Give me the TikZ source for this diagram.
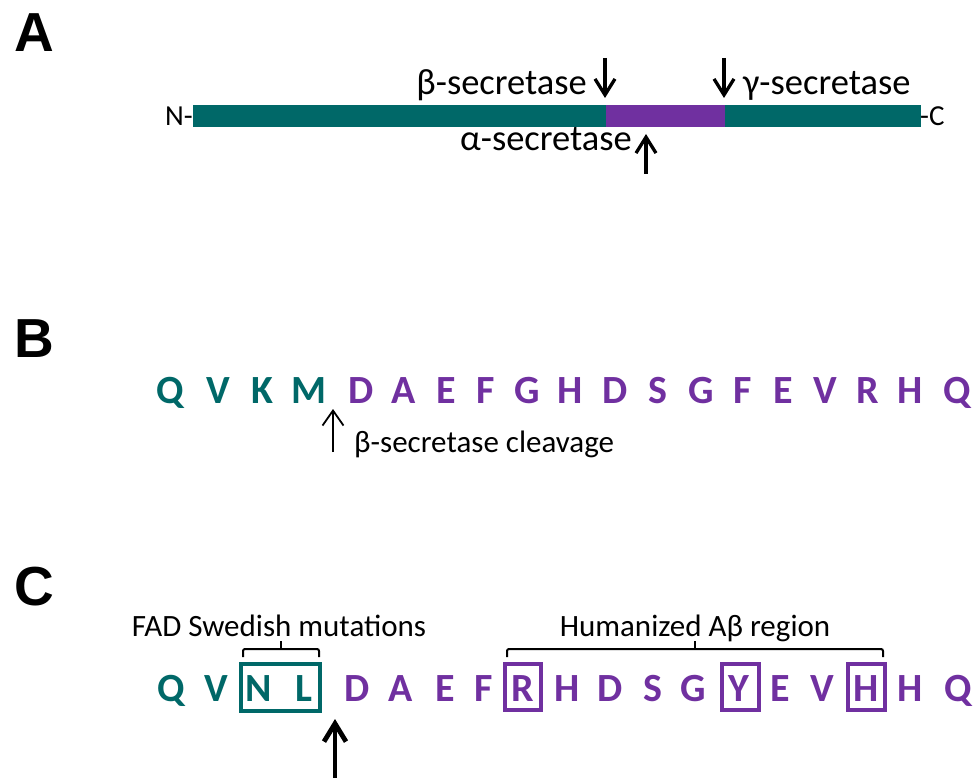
\documentclass[tikz,border=0pt]{standalone}
\usepackage{fontspec}
\setmainfont{Carlito}
\newfontfamily\panelfont{Liberation Sans}
\usetikzlibrary{arrows.meta}

\definecolor{apteal}{HTML}{006868}
\definecolor{appurple}{HTML}{7030A0}

\tikzset{
  panel/.style={anchor=base west, inner sep=0pt, font=\panelfont\bfseries\fontsize{55}{60}\selectfont},
  lbl/.style={inner sep=0pt, font=\fontsize{36.5}{40}\selectfont},
  small/.style={inner sep=0pt, font=\fontsize{31}{36}\selectfont},
  term/.style={inner sep=0pt, font=\fontsize{29}{34}\selectfont},
  aa/.style={anchor=base, inner sep=0pt, font=\bfseries\fontsize{40}{44}\selectfont},
  tl/.style={aa, text=apteal},
  pu/.style={aa, text=appurple},
  cutarrow/.style={line width=3.3pt, -{Straight Barb[length=16pt,width=20pt]}},
  thinarrow/.style={line width=1.8pt, -{Straight Barb[length=15pt,width=21pt]}},
  thickarrow/.style={line width=4.8pt, -{Straight Barb[length=18pt,width=22pt]}},
  markbox/.style={line width=3.8pt},
  bracket/.style={line width=2pt, rounded corners=2pt},
}

\begin{document}
\begin{tikzpicture}[x=1pt, y=-1pt]
\useasboundingbox (0,0) rectangle (977,778);

% ---------------- Panel A: precursor protein ----------------
\node[panel] (pa) at (14,52) {A};

\fill[apteal]   (193,105) rectangle (606,127);
\fill[appurple] (606,105) rectangle (725,127);
\fill[apteal]   (725,105) rectangle (921,127);
\coordinate (barW) at (193,116);
\coordinate (barE) at (921,116);

\node[term, anchor=base east] (nterm) at (193,126) {N-};
\node[term, anchor=base west] (cterm) at (920,126) {-C};

\coordinate (bTop) at (605,58);
\coordinate (bTip) at (605,98);
\coordinate (gTop) at (724,58);
\coordinate (gTip) at (724,98);
\coordinate (aBot) at (646,174);
\coordinate (aTip) at (646,134);
\draw[cutarrow] (bTop) -- (bTip);
\draw[cutarrow] (gTop) -- (gTip);
\draw[cutarrow] (aBot) -- (aTip);

\node[lbl, anchor=base east] (beta)  at (587,95)  {β-secretase};
\node[lbl, anchor=base west] (gamma) at (743,95)  {γ-secretase};
\node[lbl, anchor=base east] (alpha) at (632,151) {α-secretase};

% ---------------- Panel B: wild-type sequence ----------------
\node[panel] (pb) at (14,357) {B};

\node[tl] (b1)  at (170,403) {Q};
\node[tl] (b2)  at (218,403) {V};
\node[tl] (b3)  at (262,403) {K};
\node[tl] (b4)  at (309,403) {M};
\node[pu] (b5)  at (361,403) {D};
\node[pu] (b6)  at (404,403) {A};
\node[pu] (b7)  at (446,403) {E};
\node[pu] (b8)  at (486,403) {F};
\node[pu] (b9)  at (527,403) {G};
\node[pu] (b10) at (570,403) {H};
\node[pu] (b11) at (615,403) {D};
\node[pu] (b12) at (658,403) {S};
\node[pu] (b13) at (701,403) {G};
\node[pu] (b14) at (743,403) {F};
\node[pu] (b15) at (783,403) {E};
\node[pu] (b16) at (825,403) {V};
\node[pu] (b17) at (868,403) {R};
\node[pu] (b18) at (910,403) {H};
\node[pu] (b19) at (957,403) {Q};

\coordinate (cleaveBot) at (333,452);
\coordinate (cleaveTip) at (333,409);
\draw[thinarrow] (cleaveBot) -- (cleaveTip);
\node[small, anchor=base west] (cleave) at (354,452) {β-secretase cleavage};

% ---------------- Panel C: mutant / humanized sequence ----------------
\node[panel] (pc) at (14,605) {C};

\node[tl] (c1)  at (171,701) {Q};
\node[tl] (c2)  at (216,701) {V};
\node[tl] (c3)  at (259,701) {N};
\node[tl] (c4)  at (304,701) {L};
\node[pu] (c5)  at (357,701) {D};
\node[pu] (c6)  at (401,701) {A};
\node[pu] (c7)  at (445,701) {E};
\node[pu] (c8)  at (484,701) {F};
\node[pu] (c9)  at (523,701) {R};
\node[pu] (c10) at (567,701) {H};
\node[pu] (c11) at (610,701) {D};
\node[pu] (c12) at (653,701) {S};
\node[pu] (c13) at (693,701) {G};
\node[pu] (c14) at (739,701) {Y};
\node[pu] (c15) at (780,701) {E};
\node[pu] (c16) at (822,701) {V};
\node[pu] (c17) at (866,701) {H};
\node[pu] (c18) at (910,701) {H};
\node[pu] (c19) at (958,701) {Q};

% boxes round the mutated residues
\draw[markbox, apteal]   (241,664) rectangle (320,711);
\draw[markbox, appurple] (505,664) rectangle (541,710);
\draw[markbox, appurple] (722,664) rectangle (759,710);
\draw[markbox, appurple] (848,664) rectangle (885,710);

% brackets and their captions
\draw[bracket] (243,657) -- (243,649) -- (319,649) -- (319,657);
\draw[line width=2pt] (281,649) -- (281,641);
\draw[bracket] (507,657) -- (507,649) -- (883,649) -- (883,657);
\draw[line width=2pt] (695,649) -- (695,641);
\node[small, anchor=base] (fad) at (279,636) {FAD Swedish mutations};
\node[small, anchor=base] (hum) at (695,636) {Humanized Aβ region};

\coordinate (swBot) at (335,780);
\coordinate (swTip) at (335,719);
\draw[thickarrow] (swBot) -- (swTip);
\end{tikzpicture}
\end{document}
